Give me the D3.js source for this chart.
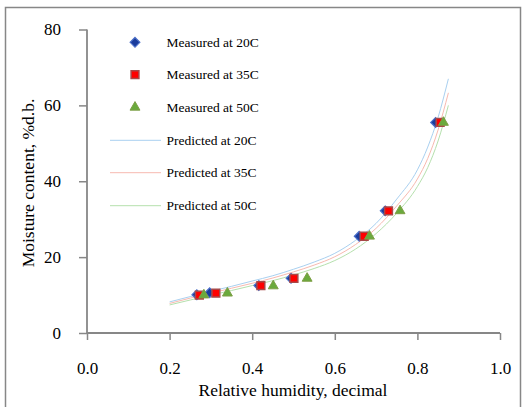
<!DOCTYPE html>
<html><head><meta charset="utf-8">
<script src="https://cdn.jsdelivr.net/npm/d3@7"></script>
<style>body{margin:0;background:#fff}svg{display:block}</style>
</head><body><svg id="c" width="522" height="407"></svg>
<script>
const rh20 = [0.266, 0.297, 0.416, 0.494, 0.659, 0.722, 0.844];
const mc20 = [10.1, 10.6, 12.5, 14.4, 25.5, 32.2, 55.5];
const rh35 = [0.272, 0.312, 0.421, 0.501, 0.671, 0.730, 0.855];
const mc35 = [10.0, 10.5, 12.5, 14.4, 25.5, 32.2, 55.5];
const rh50 = [0.283, 0.340, 0.451, 0.533, 0.684, 0.758, 0.863];
const mc50 = [10.0, 10.5, 12.4, 14.4, 25.5, 32.2, 55.5];
const predRH = [0.2, 0.25, 0.3, 0.35, 0.4, 0.45, 0.5, 0.55, 0.6, 0.65, 0.7, 0.75, 0.8, 0.825, 0.85, 0.875];
const pred20 = [8.2, 9.6, 11.0, 12.3, 13.7, 15.1, 16.8, 18.7, 21.0, 24.4, 28.9, 35.3, 43.0, 49.0, 56.8, 67.0];
const pred35 = [7.8, 9.2, 10.5, 11.8, 13.1, 14.5, 16.1, 17.9, 20.1, 23.3, 27.6, 33.5, 40.6, 46.0, 53.5, 63.3];
const pred50 = [7.4, 8.7, 10.0, 11.2, 12.5, 13.8, 15.3, 17.0, 19.1, 22.1, 26.2, 31.6, 38.6, 43.6, 50.6, 60.0];
const xTicks = [0, 0.2, 0.4, 0.6, 0.8, 1.0];
const yTicks = [0, 20, 40, 60, 80];
const legendLabels = ["Measured at 20C","Measured at 35C","Measured at 50C","Predicted at 20C","Predicted at 35C","Predicted at 50C"];

const FONT = "'Liberation Serif', 'Times New Roman', Times, serif";
const svg = d3.select("#c").attr("font-family", FONT);
const x = d3.scaleLinear().domain([0,1]).range([87,500]);
const y = d3.scaleLinear().domain([0,80]).range([333,29.5]);
const axisCol = "#878787";

svg.append("rect").attr("x",5.5).attr("y",7.5).attr("width",515).attr("height",410)
  .attr("fill","none").attr("stroke",axisCol).attr("stroke-width",1.5);

const gx = svg.append("g").attr("transform","translate(0,333)")
  .call(d3.axisBottom(x).tickValues(xTicks).tickFormat(d3.format(".1f")).tickSize(7).tickPadding(22));
const gy = svg.append("g").attr("transform","translate(87,0)")
  .call(d3.axisLeft(y).tickValues(yTicks).tickSize(8).tickPadding(18));
[gx,gy].forEach(g=>{
  g.attr("font-family", FONT).attr("font-size", 17);
  g.selectAll("path").attr("stroke",axisCol).attr("stroke-width",1.8);
  g.selectAll("line").attr("stroke",axisCol).attr("stroke-width",1.5);
  g.selectAll("text").attr("fill","#000").attr("font-family", FONT).attr("font-size", 17);
});
gy.select(".domain").attr("d","M0,"+y(80)+"V"+y(0));
gx.select(".domain").attr("d","M"+x(0)+",0H"+x(1));

svg.append("text").attr("x",293).attr("y",396).attr("text-anchor","middle")
  .attr("font-family", FONT).attr("font-size",17.5).text("Relative humidity, decimal");
svg.append("text").attr("transform","translate(34,183) rotate(-90)").attr("text-anchor","middle")
  .attr("font-family", FONT).attr("font-size",17.5).text("Moisture content, %d.b.");

const lineCols = ["#a9d0f0","#f7b9b0","#b5e0ad"];
const line = d3.line().x(d=>x(d[0])).y(d=>y(d[1])).curve(d3.curveMonotoneX);
[pred20,pred35,pred50].forEach((p,i)=>{
  svg.append("path").datum(predRH.map((r,j)=>[r,p[j]])).attr("d",line)
    .attr("fill","none").attr("stroke",lineCols[i]).attr("stroke-width",1);
});

const sym = [
  {t:d3.symbolDiamond2, size:60, fill:"#1a3c9c", stroke:"#4a6ec8", sw:1.2, dy:0},
  {t:d3.symbolSquare2, size:78, fill:"#ff0000", stroke:"#a84848", sw:1.5, dy:0},
  {t:d3.symbolTriangle2, size:70, fill:"#6aaa3c", stroke:"#7e9e46", sw:1, dy:0}
];
function drawMarker(g, cx, cy, s){
  g.append("path").attr("d", d3.symbol().type(s.t).size(s.size)())
    .attr("transform","translate("+cx+","+(cy+s.dy)+")")
    .attr("fill",s.fill).attr("stroke",s.stroke).attr("stroke-width",s.sw);
}
const pts = svg.append("g");
[[rh20,mc20],[rh35,mc35],[rh50,mc50]].forEach((s,i)=>{
  s[0].forEach((r,j)=>drawMarker(pts, x(r), y(s[1][j]), sym[i]));
});

const leg = svg.append("g");
const rowY = [42.3, 74.7, 107.3, 140.3, 172.7, 205.7];
legendLabels.forEach((lab,i)=>{
  if(i<3) drawMarker(leg, 135, rowY[i], sym[i]);
  else leg.append("line").attr("x1",110).attr("x2",161).attr("y1",rowY[i]).attr("y2",rowY[i])
    .attr("stroke",lineCols[i-3]).attr("stroke-width",1);
  leg.append("text").attr("x",166.5).attr("y",rowY[i]).attr("dy","0.35em")
    .attr("font-family", FONT).attr("font-size",13.5).text(lab);
});
</script></body></html>
